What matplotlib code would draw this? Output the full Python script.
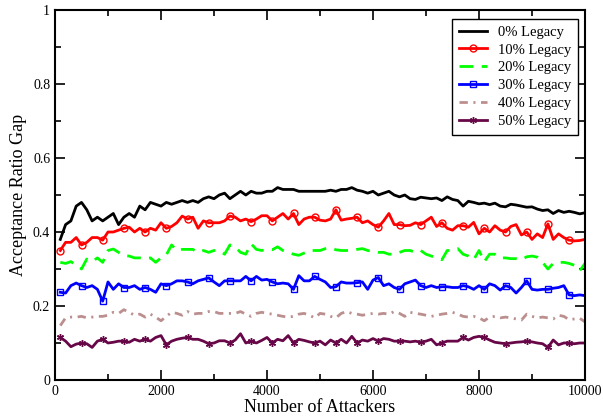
import numpy as np
import matplotlib
matplotlib.use("Agg")
import matplotlib.pyplot as plt
from matplotlib.ticker import MultipleLocator, FuncFormatter

plt.rcParams['font.family'] = ['Liberation Serif', 'DejaVu Serif']
plt.rcParams['lines.scale_dashes'] = False

attackers = np.arange(100, 10001, 100)

legacy_0 = [0.38, 0.42, 0.43, 0.47, 0.48, 0.46, 0.43, 0.44, 0.43, 0.44,
            0.45, 0.42, 0.44, 0.45, 0.44, 0.47, 0.46, 0.48, 0.475, 0.47,
            0.48, 0.475, 0.48, 0.485, 0.48, 0.485, 0.48, 0.49, 0.495, 0.49,
            0.50, 0.505, 0.49, 0.50, 0.51, 0.50, 0.51, 0.505, 0.505, 0.51,
            0.51, 0.52, 0.515, 0.515, 0.515, 0.51, 0.51, 0.51, 0.51, 0.51,
            0.51, 0.513, 0.51, 0.515, 0.515, 0.52, 0.513, 0.51, 0.505, 0.51,
            0.50, 0.505, 0.51, 0.50, 0.495, 0.50, 0.49, 0.488, 0.494, 0.492,
            0.49, 0.492, 0.485, 0.495, 0.488, 0.485, 0.47, 0.483, 0.48, 0.476,
            0.478, 0.474, 0.478, 0.47, 0.468, 0.475, 0.473, 0.47, 0.467, 0.468,
            0.462, 0.458, 0.46, 0.45, 0.458, 0.453, 0.456, 0.453, 0.449, 0.452]

legacy_10 = [0.35, 0.372, 0.372, 0.385, 0.365, 0.372, 0.385, 0.385, 0.378, 0.40,
             0.40, 0.405, 0.41, 0.413, 0.40, 0.41, 0.40, 0.41, 0.405, 0.425,
             0.41, 0.415, 0.425, 0.443, 0.435, 0.44, 0.41, 0.43, 0.425, 0.425,
             0.425, 0.43, 0.443, 0.44, 0.43, 0.435, 0.428, 0.435, 0.444, 0.444,
             0.43, 0.44, 0.45, 0.435, 0.45, 0.42, 0.435, 0.44, 0.44, 0.432,
             0.43, 0.435, 0.46, 0.432, 0.435, 0.437, 0.44, 0.425, 0.43, 0.42,
             0.413, 0.43, 0.45, 0.42, 0.42, 0.417, 0.418, 0.425, 0.42, 0.43,
             0.44, 0.415, 0.425, 0.41, 0.405, 0.417, 0.417, 0.413, 0.426, 0.395,
             0.41, 0.40, 0.417, 0.405, 0.40, 0.415, 0.42, 0.392, 0.40, 0.38,
             0.395, 0.385, 0.422, 0.38, 0.395, 0.385, 0.378, 0.376, 0.377, 0.38]

legacy_20 = [0.318, 0.315, 0.32, 0.31, 0.30, 0.327, 0.32, 0.33, 0.318, 0.35,
             0.354, 0.345, 0.336, 0.335, 0.33, 0.33, 0.328, 0.33, 0.318, 0.33,
             0.338, 0.365, 0.35, 0.353, 0.353, 0.353, 0.345, 0.35, 0.345, 0.35,
             0.35, 0.34, 0.365, 0.36, 0.345, 0.34, 0.368, 0.353, 0.35, 0.353,
             0.352, 0.36, 0.35, 0.345, 0.34, 0.337, 0.343, 0.35, 0.35, 0.35,
             0.355, 0.357, 0.352, 0.35, 0.35, 0.35, 0.353, 0.355, 0.35, 0.348,
             0.345, 0.345, 0.34, 0.34, 0.345, 0.35, 0.35, 0.345, 0.35, 0.34,
             0.335, 0.33, 0.325, 0.35, 0.35, 0.355, 0.34, 0.335, 0.325, 0.35,
             0.32, 0.34, 0.34, 0.33, 0.33, 0.328, 0.328, 0.325, 0.333, 0.335,
             0.332, 0.318, 0.30, 0.315, 0.318, 0.318, 0.315, 0.31, 0.295, 0.315]

legacy_30 = [0.237, 0.235, 0.255, 0.262, 0.255, 0.25, 0.255, 0.245, 0.213, 0.265,
             0.245, 0.26, 0.25, 0.25, 0.255, 0.245, 0.25, 0.245, 0.237, 0.26,
             0.255, 0.26, 0.268, 0.268, 0.265, 0.26, 0.268, 0.272, 0.276, 0.265,
             0.255, 0.268, 0.268, 0.268, 0.268, 0.28, 0.268, 0.28, 0.27, 0.272,
             0.265, 0.26, 0.262, 0.26, 0.245, 0.282, 0.268, 0.268, 0.28, 0.272,
             0.265, 0.25, 0.252, 0.265, 0.262, 0.262, 0.263, 0.265, 0.245, 0.27,
             0.277, 0.255, 0.26, 0.25, 0.245, 0.26, 0.265, 0.27, 0.255, 0.25,
             0.255, 0.25, 0.252, 0.252, 0.25, 0.25, 0.255, 0.252, 0.245, 0.255,
             0.245, 0.26, 0.255, 0.243, 0.255, 0.25, 0.235, 0.25, 0.268, 0.245,
             0.243, 0.245, 0.245, 0.248, 0.25, 0.255, 0.23, 0.228, 0.23, 0.228]

legacy_40 = [0.147, 0.168, 0.17, 0.17, 0.172, 0.168, 0.17, 0.172, 0.172, 0.175,
             0.183, 0.18, 0.19, 0.183, 0.175, 0.178, 0.17, 0.178, 0.17, 0.16,
             0.172, 0.183, 0.18, 0.175, 0.185, 0.178, 0.18, 0.18, 0.185, 0.185,
             0.18, 0.18, 0.18, 0.18, 0.185, 0.178, 0.172, 0.18, 0.183, 0.18,
             0.178, 0.175, 0.172, 0.17, 0.172, 0.178, 0.18, 0.175, 0.168, 0.18,
             0.178, 0.172, 0.168, 0.18, 0.185, 0.18, 0.178, 0.175, 0.178, 0.18,
             0.178, 0.18, 0.178, 0.185, 0.18, 0.172, 0.183, 0.18, 0.178, 0.175,
             0.172, 0.175, 0.178, 0.18, 0.183, 0.178, 0.172, 0.17, 0.172, 0.168,
             0.16, 0.17, 0.172, 0.168, 0.17, 0.168, 0.165, 0.162, 0.178, 0.172,
             0.168, 0.17, 0.168, 0.165, 0.175, 0.172, 0.163, 0.165, 0.167, 0.157]

legacy_50 = [0.115, 0.105, 0.09, 0.097, 0.1, 0.098, 0.088, 0.105, 0.11, 0.1,
             0.102, 0.105, 0.105, 0.102, 0.11, 0.105, 0.11, 0.105, 0.115, 0.12,
             0.095, 0.105, 0.11, 0.113, 0.115, 0.11, 0.11, 0.105, 0.098, 0.1,
             0.106, 0.106, 0.1, 0.108, 0.125, 0.1, 0.105, 0.1, 0.107, 0.115,
             0.1, 0.11, 0.106, 0.12, 0.1, 0.11, 0.107, 0.103, 0.1, 0.105,
             0.095, 0.108, 0.1, 0.11, 0.1, 0.118, 0.1, 0.108, 0.105, 0.112,
             0.105, 0.112, 0.11, 0.105, 0.105, 0.105, 0.103, 0.105, 0.102, 0.105,
             0.11, 0.095, 0.1, 0.105, 0.105, 0.105, 0.115, 0.108, 0.115, 0.118,
             0.115, 0.108, 0.102, 0.1, 0.098, 0.1, 0.102, 0.103, 0.105, 0.103,
             0.1, 0.098, 0.088, 0.108, 0.095, 0.1, 0.1, 0.098, 0.1, 0.1]

labels = ["0% Legacy", "10% Legacy", "20% Legacy", "30% Legacy", "40% Legacy", "50% Legacy"]

fig = plt.figure(figsize=(6.03, 4.19), dpi=100)
ax = fig.add_axes([55 / 603, 1 - 380 / 419, 530 / 603, 370 / 419])

lw = 2.0
ax.plot(attackers, legacy_0, color="black", lw=lw, label=labels[0])
ax.plot(attackers, legacy_10, color="#ff0000", lw=lw, marker="o", markersize=5,
        markerfacecolor="none", markeredgewidth=1, markevery=4, label=labels[1])
ax.plot(attackers, legacy_20, color="#00ff00", lw=lw, dashes=(10, 6), label=labels[2])
ax.plot(attackers, legacy_30, color="#0000ff", lw=lw, marker="s", markersize=5,
        markerfacecolor="none", markeredgewidth=1, markevery=4, label=labels[3])
ax.plot(attackers, legacy_40, color="#bc8f8f", lw=lw, dashes=(6, 4, 1.5, 4), label=labels[4])
ax.plot(attackers, legacy_50, color="#670748", lw=lw, marker=(6, 2, 0), markersize=5,
        markeredgewidth=1, markevery=4, label=labels[5])

ax.set_xlim(0, 10000)
ax.set_ylim(0, 1)
ax.xaxis.set_major_locator(MultipleLocator(2000))
ax.xaxis.set_minor_locator(MultipleLocator(1000))
ax.yaxis.set_major_locator(MultipleLocator(0.2))
ax.yaxis.set_minor_locator(MultipleLocator(0.1))
ax.yaxis.set_major_formatter(FuncFormatter(lambda v, p: "%g" % v))
ax.tick_params(which="both", direction="in", top=True, right=True, labelsize=10, width=1.2)
ax.tick_params(which="major", length=7)
ax.tick_params(which="minor", length=4)
for s in ax.spines.values():
    s.set_linewidth(1.5)

ax.set_xlabel("Number of Attackers", fontsize=13, labelpad=1)
ax.set_ylabel("Acceptance Ratio Gap", fontsize=13, labelpad=4)

leg = ax.legend(loc="upper right", bbox_to_anchor=(0.987, 0.976), borderaxespad=0,
                fontsize=10.5, fancybox=False, framealpha=1, edgecolor="black",
                handlelength=1.9, borderpad=0.45, labelspacing=0.32, handletextpad=0.8)
leg.get_frame().set_linewidth(1.0)

fig.savefig("out.png", dpi=100)
